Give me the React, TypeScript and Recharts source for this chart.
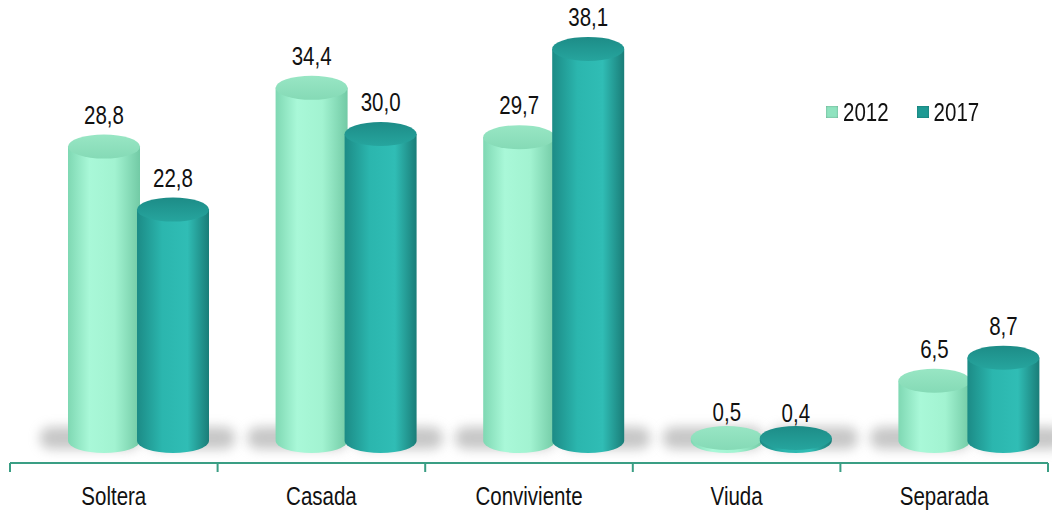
import React from "react";
import { BarChart, Bar, XAxis, YAxis, Legend, LabelList } from "recharts";

const categories = ["Soltera", "Casada", "Conviviente", "Viuda", "Separada"];
const values2012 = [28.8, 34.4, 29.7, 0.5, 6.5];
const values2017 = [22.8, 30.0, 38.1, 0.4, 8.7];
const seriesNames = ["2012", "2017"];

const data = categories.map((name, i) => ({ name, y2012: values2012[i], y2017: values2017[i] }));

const FONT = "'Liberation Sans', Arial, sans-serif";
const AXIS = "#3a9e84";
const SHIFT = 25; // depth offset of the 3d bars
const RY = 12; // cylinder ellipse radius
const LIFT = 8; // bottom ellipse sits a little above the zero line

const palette: Record<string, { body: string; top: string; left: number; right: number; swatch: string }> = {
  y2012: { body: "body2012", top: "top2012", left: 28, right: 0, swatch: "#8fe3bf" },
  y2017: { body: "body2017", top: "top2017", left: -10, right: 26, swatch: "#1f9a94" },
};

const makeCylinder = (key: string) => (props: any) => {
  const { x, y, width, height } = props;
  const c = palette[key];
  const cx = x + SHIFT;
  const rx = width / 2;
  const yb = y + height - LIFT;
  // very small values become thin discs resting on the floor
  const yt = Math.min(y, yb - 3);
  return (
    <g>
      <rect
        x={cx - c.left}
        y={yb - 14}
        width={width + c.left + c.right}
        height={22}
        rx={10}
        fill="#8f8f8f"
        opacity={0.5}
        filter="url(#floorBlur)"
      />
      <path
        d={`M${cx},${yt} L${cx},${yb} A${rx},${RY} 0 0 0 ${cx + width},${yb} L${cx + width},${yt} Z`}
        fill={`url(#${c.body})`}
      />
      <ellipse cx={cx + rx} cy={yt} rx={rx} ry={RY} fill={`url(#${c.top})`} />
    </g>
  );
};

const ValueLabel = (props: any) => {
  const { x, y, width, value } = props;
  return (
    <text
      transform={`translate(${x + SHIFT + width / 2},${y - RY - 11}) scale(1,1.25)`}
      textAnchor="middle"
      fontFamily={FONT}
      fontSize={20.5}
      fill="#111"
    >
      {Number(value).toFixed(1).replace(".", ",")}
    </text>
  );
};

// category label plus tick marks at the band edges
const CategoryTick = (props: any) => {
  const { x, y, payload, index, visibleTicksCount } = props;
  const half = payload && payload.offset ? payload.offset : 103.8;
  const last = index === (visibleTicksCount || categories.length) - 1;
  return (
    <g>
      <line x1={x - half} y1={y} x2={x - half} y2={y + 9} stroke={AXIS} strokeWidth={2} />
      {last && <line x1={x + half} y1={y} x2={x + half} y2={y + 9} stroke={AXIS} strokeWidth={2} />}
      <text
        transform={`translate(${x},${y + 42}) scale(1,1.25)`}
        textAnchor="middle"
        fontFamily={FONT}
        fontSize={20.5}
        fill="#111"
      >
        {payload.value}
      </text>
    </g>
  );
};

const LegendContent = () => (
  <div style={{ display: "flex", alignItems: "center", height: 24, fontFamily: FONT, fontSize: 20.5, color: "#111" }}>
    {seriesNames.map((name, i) => (
      <div key={name} style={{ display: "flex", alignItems: "center", marginRight: i === 0 ? 28 : 0 }}>
        <span
          style={{
            width: 12,
            height: 12,
            marginRight: 5,
            background: palette[i === 0 ? "y2012" : "y2017"].swatch,
            boxShadow: "inset 0 0 2px rgba(0,0,0,0.35)",
          }}
        />
        <span style={{ display: "inline-block", transform: "scale(1,1.25)" }}>{name}</span>
      </div>
    ))}
  </div>
);

export default function App() {
  return (
    <div style={{ position: "absolute", left: 0, top: 0, background: "#fff" }}>
      <BarChart
        width={1052}
        height={510}
        data={data}
        margin={{ top: 29, right: 4, bottom: 0, left: 10 }}
        barSize={72}
        barGap={-3}
      >
        <defs>
          <linearGradient id="body2012" x1="0" y1="0" x2="1" y2="0">
            <stop offset="0" stopColor="#7fd8b3" />
            <stop offset="0.3" stopColor="#a9f8d8" />
            <stop offset="0.65" stopColor="#a2f3d1" />
            <stop offset="1" stopColor="#72caa5" />
          </linearGradient>
          <linearGradient id="body2017" x1="0" y1="0" x2="1" y2="0">
            <stop offset="0" stopColor="#1c8b86" />
            <stop offset="0.35" stopColor="#2bb6ae" />
            <stop offset="0.7" stopColor="#30bdb5" />
            <stop offset="1" stopColor="#1a7d78" />
          </linearGradient>
          <linearGradient id="top2012" x1="0" y1="0" x2="0" y2="1">
            <stop offset="0" stopColor="#98e6c4" />
            <stop offset="1" stopColor="#85dab6" />
          </linearGradient>
          <linearGradient id="top2017" x1="0" y1="0" x2="0" y2="1">
            <stop offset="0" stopColor="#1d8c87" />
            <stop offset="1" stopColor="#26a59e" />
          </linearGradient>
          <filter id="floorBlur" x="-30%" y="-100%" width="160%" height="300%">
            <feGaussianBlur stdDeviation="6" />
          </filter>
        </defs>
        <XAxis
          dataKey="name"
          height={47}
          axisLine={{ stroke: AXIS, strokeWidth: 2 }}
          tickLine={false}
          tickSize={0}
          tickMargin={0}
          interval={0}
          tick={<CategoryTick />}
        />
        <YAxis hide domain={[-4 / 3, 40]} allowDataOverflow />
        <Legend
          layout="horizontal"
          verticalAlign="middle"
          align="center"
          content={<LegendContent />}
          wrapperStyle={{ position: "absolute", left: 826, top: 100, width: "auto" }}
        />
        <Bar dataKey="y2012" name="2012" shape={makeCylinder("y2012")} isAnimationActive={false}>
          <LabelList dataKey="y2012" content={<ValueLabel />} />
        </Bar>
        <Bar dataKey="y2017" name="2017" shape={makeCylinder("y2017")} isAnimationActive={false}>
          <LabelList dataKey="y2017" content={<ValueLabel />} />
        </Bar>
      </BarChart>
    </div>
  );
}
